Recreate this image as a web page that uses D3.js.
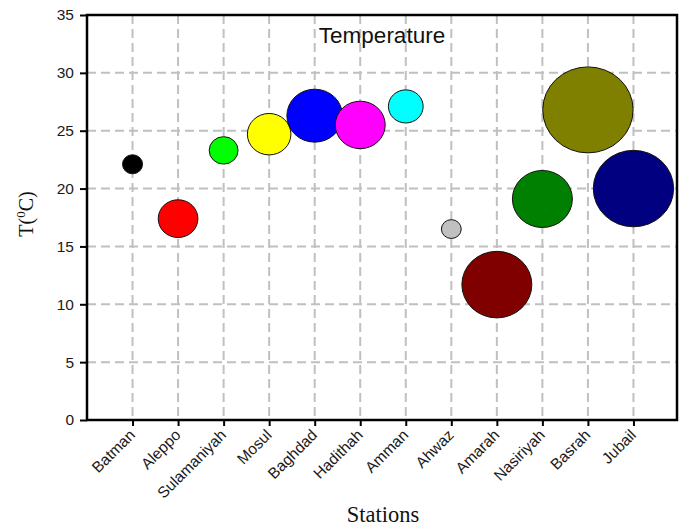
<!DOCTYPE html>
<html>
<head>
<meta charset="utf-8">
<script src="https://cdn.jsdelivr.net/npm/d3@7"></script>
<style>
  html, body { margin: 0; padding: 0; background: #fff; }
  svg { display: block; }
</style>
</head>
<body>
<svg id="chart" width="685" height="529"></svg>
<script>
// Mean temperature per station, with relative bubble size
const stations = ["Batman", "Aleppo", "Sulamaniyah", "Mosul", "Baghdad", "Hadithah",
                  "Amman", "Ahwaz", "Amarah", "Nasiriyah", "Basrah", "Jubail"];
const temperature = [22.1, 17.4, 23.3, 24.7, 26.3, 25.5, 27.1, 16.5, 11.7, 19.1, 26.8, 20.0];
const bubbleSize = [4.9, 19.3, 10.2, 23.2, 37.9, 30.5, 14.8, 4.8, 59.9, 44.0, 100, 79.0];
const bubbleColor = ["#000000", "#ff0000", "#00ff00", "#ffff00", "#0000ff", "#ff00ff",
                     "#00ffff", "#c0c0c0", "#800000", "#008000", "#808000", "#000080"];
const yTicks = [0, 5, 10, 15, 20, 25, 30, 35];

const svg = d3.select("#chart");
const plotL = 87, plotR = 677, plotT = 15, plotB = 420;

const x = d3.scalePoint().domain(stations).range([plotL, plotR + 2]).padding(1);
const y = d3.scaleLinear().domain([0, 35]).range([plotB, plotT]);
const r = d3.scaleSqrt().domain([0, 100]).range([0, 44.1]);

const sans = "'Liberation Sans', Arial, sans-serif";
const serif = "'Liberation Serif', 'Times New Roman', serif";

// dashed grid
const grid = svg.append("g")
  .attr("stroke", "#c0c0c0").attr("stroke-width", 2).attr("stroke-dasharray", "9,5");
grid.selectAll("line.h").data(yTicks.filter(t => t > 0 && t < 35)).join("line")
  .attr("class", "h")
  .attr("x1", plotL).attr("x2", plotR)
  .attr("y1", d => y(d)).attr("y2", d => y(d));
grid.selectAll("line.v").data(stations).join("line")
  .attr("class", "v")
  .attr("x1", d => x(d)).attr("x2", d => x(d))
  .attr("y1", plotT).attr("y2", plotB);

// bubbles (slightly wider than tall)
const rows = stations.map((s, i) => ({ s, t: temperature[i], size: bubbleSize[i], c: bubbleColor[i] }));
svg.append("g").selectAll("ellipse").data(rows).join("ellipse")
  .attr("cx", d => x(d.s))
  .attr("cy", d => y(d.t))
  .attr("rx", d => r(d.size) * 1.025)
  .attr("ry", d => r(d.size) * 0.975)
  .attr("fill", d => d.c)
  .attr("stroke", "#111")
  .attr("stroke-width", 1);

// y axis
const yAxis = svg.append("g")
  .attr("transform", `translate(${plotL},0)`)
  .call(d3.axisLeft(y).tickValues(yTicks).tickSize(7).tickPadding(6).tickSizeOuter(0));
yAxis.select(".domain").remove();
yAxis.selectAll(".tick line").attr("stroke", "#000").attr("stroke-width", 2);
yAxis.selectAll(".tick text")
  .attr("font-family", sans).attr("font-size", 15.5).attr("fill", "#1a1a1a");

// x axis
const xAxis = svg.append("g")
  .attr("transform", `translate(0,${plotB})`)
  .call(d3.axisBottom(x).tickSize(6).tickSizeOuter(0));
xAxis.select(".domain").remove();
xAxis.selectAll(".tick line").attr("stroke", "#000").attr("stroke-width", 2);
xAxis.selectAll(".tick text")
  .attr("font-family", sans).attr("font-size", 15.5).attr("fill", "#1a1a1a")
  .attr("text-anchor", "end")
  .attr("dy", null).attr("y", null)
  .attr("transform", "translate(3,16) rotate(-45)");

// frame
svg.append("rect")
  .attr("x", plotL).attr("y", plotT)
  .attr("width", plotR - plotL).attr("height", plotB - plotT)
  .attr("fill", "none").attr("stroke", "#000").attr("stroke-width", 2.5);

// title inside the plot
svg.append("text")
  .attr("x", 382).attr("y", 43)
  .attr("text-anchor", "middle")
  .attr("font-family", sans).attr("font-size", 22.5).attr("fill", "#111")
  .text("Temperature");

// axis titles
svg.append("text")
  .attr("x", 383).attr("y", 522)
  .attr("text-anchor", "middle")
  .attr("font-family", serif).attr("font-size", 22.5).attr("fill", "#111")
  .text("Stations");

const yTitle = svg.append("text")
  .attr("transform", "translate(33,214) rotate(-90)")
  .attr("text-anchor", "middle")
  .attr("font-family", serif).attr("font-size", 20).attr("fill", "#111");
yTitle.append("tspan").text("T(");
yTitle.append("tspan").attr("font-size", 13).attr("dy", -8).text("0");
yTitle.append("tspan").attr("dy", 8).text("C)");
</script>
</body>
</html>
